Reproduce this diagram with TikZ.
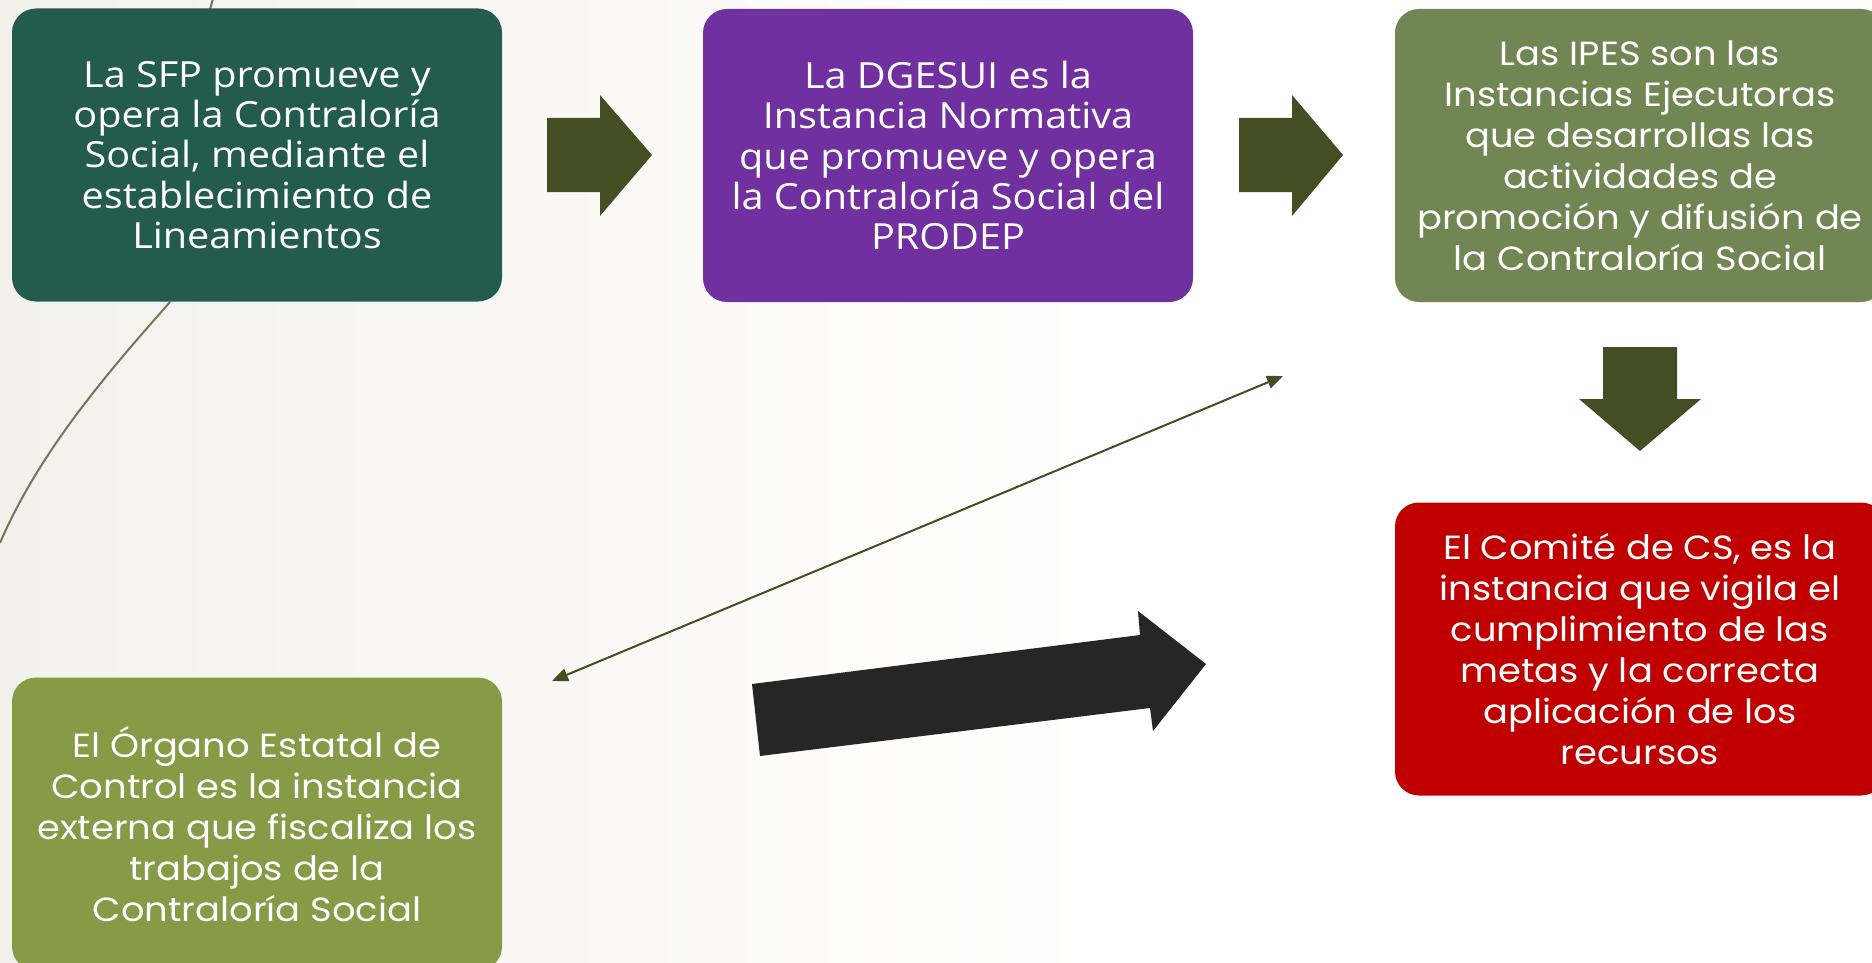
\documentclass[tikz,border=0pt]{standalone}
\usepackage{fontspec}
\setmainfont{Poppins}[FakeStretch=1.1]
\newfontfamily\humfont{Open Sans}[FakeStretch=1.1]
\usetikzlibrary{arrows.meta}
\definecolor{sfpc}{HTML}{245B4F}
\definecolor{purp}{HTML}{7030A0}
\definecolor{ipesc}{HTML}{728653}
\definecolor{redc}{HTML}{C00000}
\definecolor{oecc}{HTML}{879A46}
\definecolor{arrg}{HTML}{434E22}
\definecolor{blk}{HTML}{262626}
\definecolor{curvec}{HTML}{7A7358}
\definecolor{bgc}{HTML}{F3F1EC}
\begin{document}
\begin{tikzpicture}[x=1pt,y=-1pt,
  box/.style={rounded corners=24pt, text=white, align=center, inner sep=0pt,
    minimum width=490pt, minimum height=293pt},
  fontA/.style={font=\humfont\fontsize{36}{40.3}\selectfont},
  fontB/.style={font=\fontsize{33.5}{41}\selectfont},
  blockarrow/.style={fill=arrg},
  thinarrow/.style={draw=arrg, line width=2pt,
    {Triangle[length=16pt,width=13pt]}-{Triangle[length=16pt,width=13pt]}}
]
\useasboundingbox (0,0) rectangle (1872,963);
\fill[white] (0,0) rectangle (1872,963);
\shade[left color=bgc, right color=white] (0,0) rectangle (1100,963);
% background curve
\draw[curvec, line width=2pt] (214,-5) -- (196,60);
\draw[curvec, line width=2pt] (170,302) .. controls (110,370) and (40,450) .. (0,543);

\node[box, fill=sfpc, fontA] (sfp) at (257,155)
  {La SFP promueve y\\opera la Contraloría\\Social, mediante el\\establecimiento de\\Lineamientos};
\node[box, fill=purp, fontA] (dgesui) at (948,155.5)
  {La DGESUI es la\\Instancia Normativa\\que promueve y opera\\la Contraloría Social del\\PRODEP};
\node[box, fill=ipesc, fontB] (ipes) at (1640,155.5)
  {Las IPES son las\\Instancias Ejecutoras\\que desarrollas las\\actividades de\\promoción y difusión de\\la Contraloría Social};
\node[box, fill=redc, fontB] (comite) at (1640,649)
  {El Comité de CS, es la\\instancia que vigila el\\cumplimiento de las\\metas y la correcta\\aplicación de los\\recursos};
\node[box, fill=oecc, fontB] (oec) at (257,824)
  {El Órgano Estatal de\\Control es la instancia\\externa que fiscaliza los\\trabajos de la\\Contraloría Social};

% block arrows
\fill[blockarrow] (547,118) -- (600,118) -- (600,95) -- (652,155) -- (600,216) -- (600,192) -- (547,192) -- cycle;
\fill[blockarrow] (1239,118) -- (1292,118) -- (1292,95) -- (1343,155) -- (1292,216) -- (1292,192) -- (1239,192) -- cycle;
\fill[blockarrow] (1603,347) -- (1677,347) -- (1677,399) -- (1701,399) -- (1640,451) -- (1579,399) -- (1603,399) -- cycle;
\fill[blk] (752,684) -- (1140,635) -- (1138,611) -- (1206,664) -- (1153,731) -- (1150,708) -- (760,756) -- cycle;

% thin double arrow
\coordinate (t1) at (552,681);
\coordinate (t2) at (1283,376);
\draw[thinarrow] (t1) -- (t2);
\end{tikzpicture}
\end{document}
